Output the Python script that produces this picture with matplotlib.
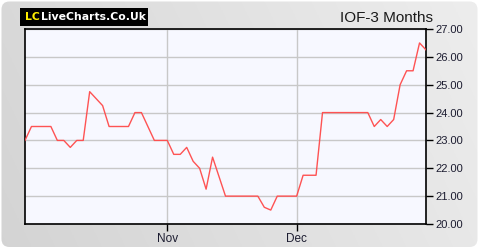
import numpy as np
import matplotlib
matplotlib.use("Agg")
import matplotlib.pyplot as plt
from matplotlib.patches import FancyBboxPatch, Rectangle

# ---- data ----
prices = [23.0, 23.5, 23.5, 23.5, 23.5, 23.0, 23.0, 22.75, 23.0, 23.0,
          24.75, 24.5, 24.25, 23.5, 23.5, 23.5, 23.5, 24.0, 24.0, 23.5,
          23.0, 23.0, 23.0, 22.5, 22.5, 22.75, 22.25, 22.0, 21.25, 22.4,
          21.7, 21.0, 21.0, 21.0, 21.0, 21.0, 21.0, 20.6, 20.5, 21.0,
          21.0, 21.0, 21.0, 21.75, 21.75, 21.75, 24.0, 24.0, 24.0, 24.0,
          24.0, 24.0, 24.0, 24.0, 23.5, 23.75, 23.5, 23.75, 25.0, 25.5,
          25.5, 26.5, 26.25]
month_labels = ["Nov", "Dec"]
month_index = [22, 42]
y_ticks = [20, 21, 22, 23, 24, 25, 26, 27]
title = "IOF-3 Months"

W, H = 480, 250
fig = plt.figure(figsize=(W / 100, H / 100), dpi=100)
fig.patch.set_facecolor("white")

# background panel with gradient
bg = fig.add_axes([0, 0, 1, 1])
bg.set_xlim(0, W)
bg.set_ylim(H, 0)
bg.axis("off")
xs = np.linspace(0, 1, 200)
ys = np.linspace(0, 1, 100)
gx, gy = np.meshgrid(xs, ys)
val = 0.83 + 0.08 * gx + 0.02 * (1 - gy)
img = np.dstack([val, val, val])
im = bg.imshow(img, extent=(0, W, H, 0), aspect="auto", zorder=0)
panel = FancyBboxPatch((1.5, 1.5), W - 4, H - 4.5,
                       boxstyle="round,pad=0,rounding_size=8",
                       facecolor="none", edgecolor="none", transform=bg.transData)
bg.add_patch(panel)
im.set_clip_path(panel)

# logo
bg.add_patch(Rectangle((20, 8), 128, 17.5, facecolor="black", edgecolor="none", zorder=2))
bg.text(24.5, 17, "LC", color="#ffee00", fontsize=7.8, fontweight="bold",
        family="DejaVu Sans", va="center", ha="left", zorder=3)
bg.text(41, 17, "LiveCharts.Co.Uk", color="white", fontsize=7.8, fontweight="bold",
        family="DejaVu Sans", va="center", ha="left", zorder=3)

# title
bg.text(433, 22, title, color="#1a1a1a", fontsize=11, family="Liberation Sans",
        ha="right", va="baseline", zorder=3)

# main chart
left, right, top, bottom = 25, 426, 29, 224
ax = fig.add_axes([left / W, 1 - bottom / H, (right - left) / W, (bottom - top) / H])
ax.set_facecolor("#f7f8ff")
x = np.arange(len(prices))
ax.plot(x, prices, color="#ff4a4a", lw=1.0, alpha=0.95, zorder=3)
ax.set_xlim(0, len(prices) - 1)
ax.set_ylim(20, 27)

ax.set_yticks(y_ticks)
ax.set_yticklabels([f"{v:.2f}" for v in y_ticks])
ax.yaxis.tick_right()
ax.set_xticks(month_index)
ax.set_xticklabels(month_labels)
ax.grid(True, color="#c8c8c8", lw=1.0, zorder=0)
ax.set_axisbelow(True)
ax.tick_params(axis="y", direction="out", length=5, width=1, colors="black",
               labelcolor="#1c1c30", labelsize=8, pad=2)
ax.tick_params(axis="x", direction="out", length=5, width=1, colors="black",
               labelcolor="#1c1c30", labelsize=8.5, pad=1.5)
for lab in ax.get_xticklabels() + ax.get_yticklabels():
    lab.set_family("Liberation Sans")
for sp in ax.spines.values():
    sp.set_color("black")
    sp.set_linewidth(1.2)

fig.savefig("out.png", dpi=100, facecolor="white")
